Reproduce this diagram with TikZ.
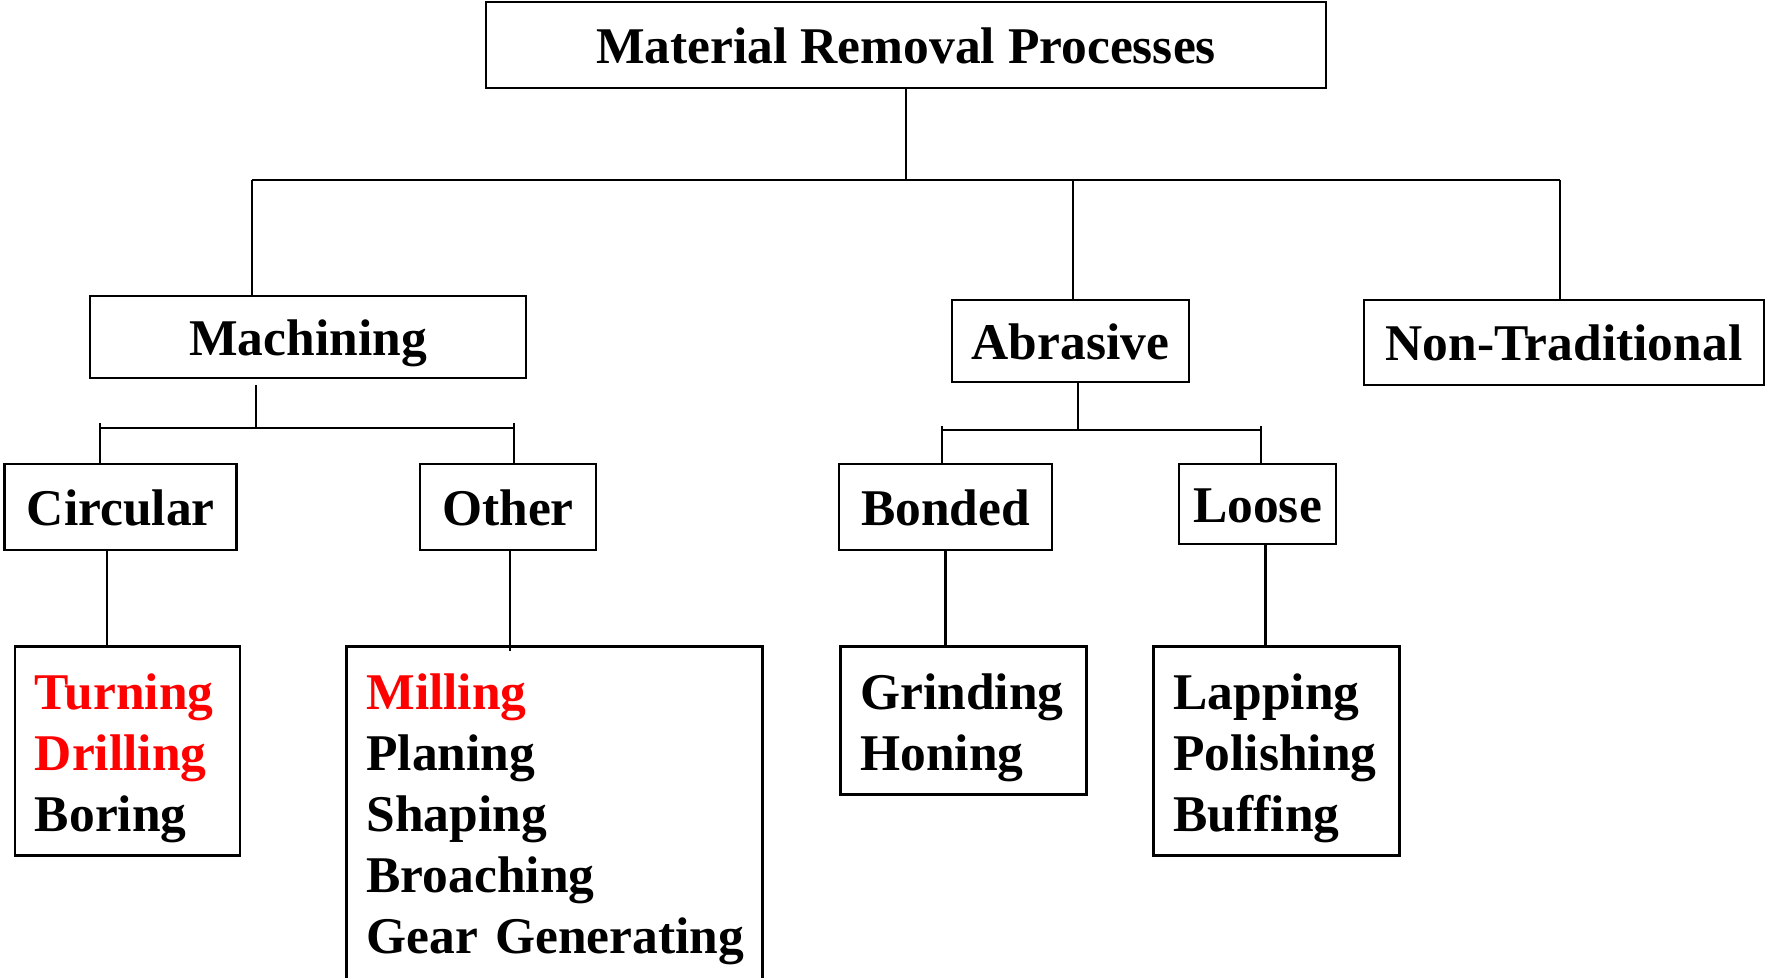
\documentclass[tikz,border=0pt]{standalone}
\usepackage{fontspec}
\setmainfont{Liberation Serif}
\newcommand{\topstrut}{\rule{0pt}{50pt}}
\begin{document}
\begin{tikzpicture}[x=1pt, y=-1pt,
    box/.style={draw, line width=2.8pt, inner sep=0pt, font=\fontsize{51.5}{61}\selectfont\bfseries,
        text height=36pt, text depth=0pt},
    listbox/.style={draw, line width=2.8pt, anchor=north west, inner xsep=20pt, inner ysep=13pt,
        align=left, font=\fontsize{51.5}{61}\selectfont\bfseries},
    link/.style={line width=2.4pt}]
    \useasboundingbox (0,0) rectangle (1766,977);
    \clip (0,0) rectangle (1766,977);
    %\draw [help lines] (0,0) grid[step=100] (1766,977);
    \node[box, minimum width=840, minimum height=86] (top) at (906,45) {Material Removal Processes};
    \node[box, minimum width=436, minimum height=82] (mach) at (308,337) {Machining};
    \node[box, minimum width=237, minimum height=82] (abr) at (1070.5,341) {Abrasive};
    \node[box, minimum width=400, minimum height=85] (nontrad) at (1564,342.5) {Non-Traditional};
    \node[box, minimum width=232, minimum height=86] (circ) at (120.75,507) {Circular};
    \node[box, minimum width=176, minimum height=86] (other) at (508,507) {Other};
    \node[box, minimum width=213, minimum height=86] (bond) at (945.5,507) {Bonded};
    \node[box, minimum width=157, minimum height=80] (loose) at (1257.5,504) {Loose};
    \node[listbox, text width=185] (turn) at (13.5,645)
        {\topstrut\textcolor{red}{Turning}\\ \textcolor{red}{Drilling}\\ Boring};
    \node[listbox, text width=376] (mill) at (345,645)
        {\topstrut\textcolor{red}{Milling}\\ Planing\\ Shaping\\ Broaching\\ \mbox{Gear Generating}\rule[-40pt]{0pt}{1pt}};
    \node[listbox, text width=206] (grind) at (839,645) {\topstrut Grinding\\ Honing};
    \node[listbox, text width=206] (lap) at (1152,645) {\topstrut Lapping\\ Polishing\\ Buffing};
    % first level
    \coordinate (j0) at (906,180);
    \coordinate (j1) at (252,180);
    \coordinate (j2) at (1073,180);
    \coordinate (j3) at (1560,180);
    \draw[link] (top.south) -- (j0);
    \draw[link] (j1) -- (j3);
    \draw[link] (j1) -- (j1 |- mach.north);
    \draw[link] (j2) -- (j2 |- abr.north);
    \draw[link] (j3) -- (j3 |- nontrad.north);
    % machining
    \coordinate (m0) at (256,428);
    \coordinate (m1) at (100,423);
    \coordinate (m2) at (514,423);
    \draw[link, shorten <=6pt] (m0 |- mach.south) -- (m0);
    \draw[link] (m1 |- m0) -- (m2 |- m0);
    \draw[link] (m1) -- (m1 |- circ.north);
    \draw[link] (m2) -- (m2 |- other.north);
    % abrasive
    \coordinate (a0) at (1078,430);
    \coordinate (a1) at (942,426);
    \coordinate (a2) at (1261,426);
    \draw[link] (a0 |- abr.south) -- (a0);
    \draw[link] (a1 |- a0) -- (a2 |- a0);
    \draw[link] (a1) -- (a1 |- bond.north);
    \draw[link] (a2) -- (a2 |- loose.north);
    % lists
    \draw[link] ([xshift=-14pt]circ.south) -- ([xshift=-14pt]circ.south |- turn.north);
    \draw[link, shorten >=-6pt] ([xshift=2pt]other.south) -- ([xshift=2pt]other.south |- mill.north);
    \draw[link] (bond.south) -- (bond.south |- grind.north);
    \draw[link] ([xshift=8pt]loose.south) -- ([xshift=8pt]loose.south |- lap.north);
\end{tikzpicture}
\end{document}
